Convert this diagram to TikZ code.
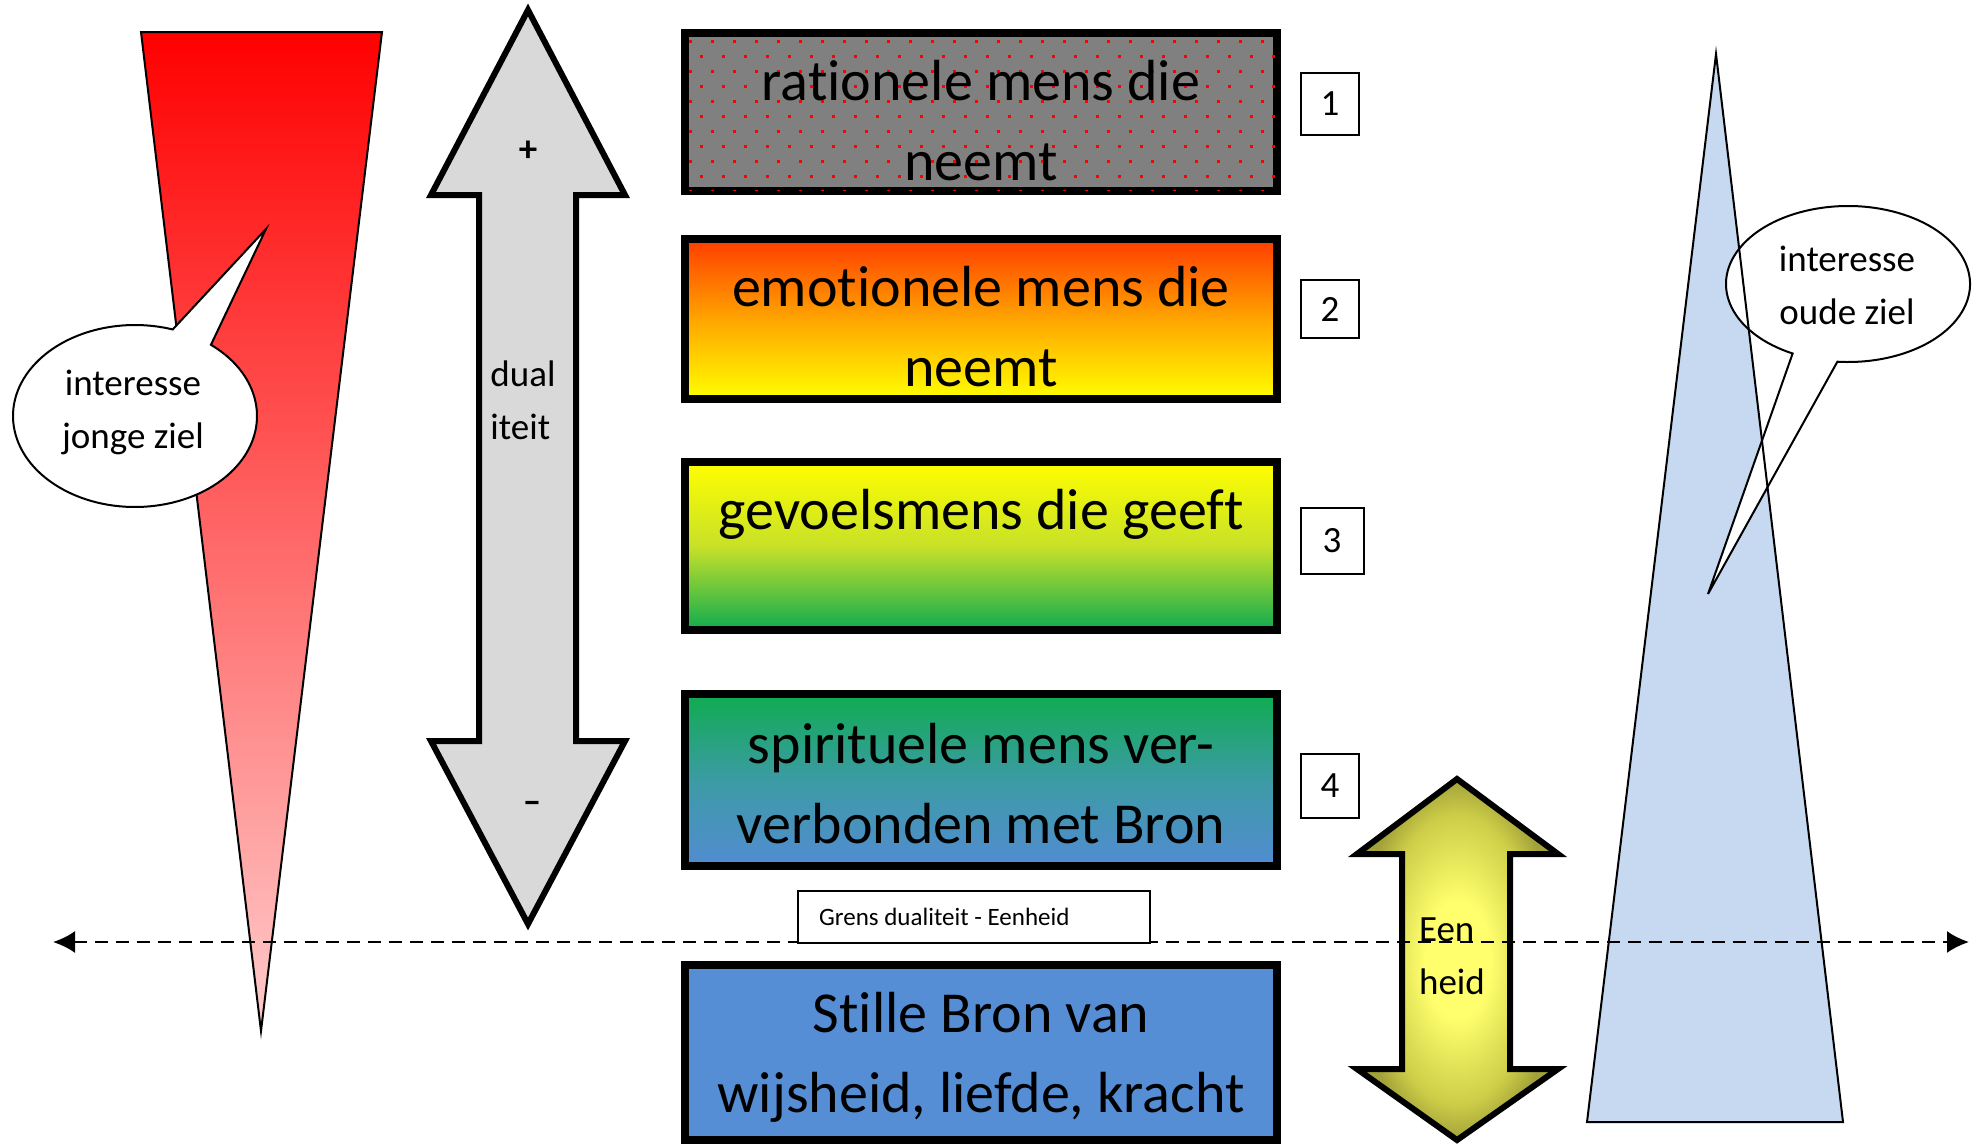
\documentclass[tikz,border=0pt]{standalone}
\usepackage{fontspec}
\setmainfont{Carlito}[Ligatures={NoCommon}]
\usetikzlibrary{arrows.meta, positioning, shapes}

\definecolor{ratgrijs}{RGB}{128,128,128}
\definecolor{emotop}{RGB}{255,60,0}
\definecolor{emomid}{RGB}{255,165,0}
\definecolor{geel}{RGB}{255,255,0}
\definecolor{gevmid}{RGB}{200,225,40}
\definecolor{groen}{RGB}{15,172,80}
\definecolor{spimid}{RGB}{60,155,165}
\definecolor{spibot}{RGB}{82,140,210}
\definecolor{bronblauw}{RGB}{85,142,213}
\definecolor{pijlgrijs}{RGB}{217,217,217}
\definecolor{jongrood}{RGB}{255,0,0}
\definecolor{jongroze}{RGB}{255,204,204}
\definecolor{oudblauw}{RGB}{198,217,240}
\definecolor{eenlicht}{RGB}{255,255,110}
\definecolor{eenmid}{RGB}{205,205,72}
\definecolor{eendonker}{RGB}{162,162,58}

\pgfdeclareradialshading{eenheidglow}{\pgfpoint{0bp}{0bp}}{%
  color(0bp)=(eenlicht); color(8bp)=(eenlicht); color(20bp)=(eenmid);
  color(25bp)=(eendonker); color(50bp)=(eendonker)}

\begin{document}
\begin{tikzpicture}[x=1pt,y=-1pt,
  laag/.style={draw,line width=8pt,minimum width=592pt,inner sep=0pt,outer sep=0pt},
  laagtekst/.style={align=center,inner sep=0pt,font=\fontsize{58}{80}\selectfont},
  nummer/.style={draw,line width=2pt,fill=white,minimum width=58pt,minimum height=62pt,inner sep=0pt,font=\fontsize{37}{44}\selectfont},
  ballon/.style={draw,line width=2pt,fill=white},
  ballontekst/.style={align=center,inner sep=0pt,font=\fontsize{37}{53}\selectfont},
  pijl/.style={draw,line width=6pt,line join=miter},
  klein/.style={inner sep=0pt,font=\fontsize{37}{53}\selectfont}]
  \useasboundingbox (0,0) rectangle (1977,1144);

  % driehoeken jonge en oude ziel
  \shade[top color=jongrood,bottom color=jongroze,draw,line width=2pt]
    (141,32) -- (382,32) -- (261,1031) -- cycle;
  \fill[oudblauw] (1716,54) -- (1843,1122) -- (1587,1122) -- cycle;

  % dualiteit pijl
  \draw[pijl,fill=pijlgrijs] (528,10) -- (625,195) -- (576,195) -- (576,741) -- (625,741)
    -- (528,924) -- (431,741) -- (479,741) -- (479,195) -- (431,195) -- cycle;
  \node[klein] (plus) at (528,151) {\textbf{+}};
  \node[klein,align=left] (dual) at (523,400) {dual\\iteit};
  \node[klein] (min) at (532,807) {\textbf{–}};

  % lagen
  \node[laag,fill=ratgrijs,minimum height=158pt] (b1) at (981,112) {};
  \begin{scope}
    \clip (686,34) rectangle (1276,190);
    \foreach \r in {0,...,10}{
      \pgfmathsetmacro\dx{11*mod(\r,2)}
      \foreach \c in {0,...,27}
        \fill[red] ({689+22*\c+\dx},{40+15*\r}) rectangle +(3,3);
    }
  \end{scope}
  \node[laag,minimum height=160pt,top color=emotop,bottom color=geel,middle color=emomid] (b2) at (981,319) {};
  \node[laag,minimum height=168pt,top color=geel,bottom color=groen,middle color=gevmid] (b3) at (981,546) {};
  \node[laag,minimum height=172pt,top color=groen,bottom color=spibot,middle color=spimid] (b4) at (981,780) {};
  \node[laag,fill=bronblauw,minimum height=175pt] (b5) at (981,1052) {};

  \node[laagtekst] (t1) at (981,121) {rationele mens die\\neemt};
  \node[laagtekst] (t2) at (981,327) {emotionele mens die\\neemt};
  \node[laagtekst] (t3) at (981,514) {gevoelsmens die geeft};
  \node[laagtekst] (t4) at (981,784) {spirituele mens ver-\\verbonden met Bron};
  \node[laagtekst] (t5) at (981,1057) {Stille Bron van\\wijsheid, liefde, kracht};

  \node[nummer] (n1) at (1330,104) {1};
  \node[nummer,minimum height=58pt] (n2) at (1330,309) {2};
  \node[nummer,minimum width=63pt,minimum height=66pt] (n3) at (1332,541) {3};
  \node[nummer,minimum height=64pt] (n4) at (1330,786) {4};

  % eenheid pijl
  \draw[pijl,shading=eenheidglow] (1457,779) -- (1558,854) -- (1510,854) -- (1510,1069) -- (1558,1069)
    -- (1457,1140) -- (1357,1069) -- (1402,1069) -- (1402,854) -- (1357,854) -- cycle;

  % tekstballonnen
  \coordinate (jc) at (135,416);
  \coordinate (jtip) at (266,229);
  \draw[ballon] (jc) ++(-51.5:122 and 91) arc[start angle=-51.5,end angle=288,x radius=122,y radius=91]
    -- (jtip) -- cycle;
  \node[ballontekst] (jong) at (133,412) {interesse\\jonge ziel};

  \coordinate (oc) at (1848,284);
  \coordinate (otip) at (1708,594);
  \draw[ballon] (oc) ++(117:122 and 78) arc[start angle=117,end angle=455,x radius=122,y radius=78]
    -- (otip) -- cycle;
  \node[ballontekst] (oud) at (1847,285) {interesse\\oude ziel};
  \draw[line width=2pt] (1716,54) -- (1843,1122) -- (1587,1122) -- cycle;

  % grens
  \coordinate (grensL) at (53,942);
  \coordinate (grensR) at (1969,942);
  \draw[line width=2.5pt,dash pattern=on 13pt off 8pt,{Latex[length=22pt,width=22pt]}-{Latex[length=22pt,width=22pt]}]
    (grensL) -- (grensR);
  \node[draw,line width=2pt,fill=white,minimum width=352pt,minimum height=52pt,inner sep=0pt] (g) at (974,917) {};
  \node[inner sep=0pt,anchor=west,font=\fontsize{25}{30}\selectfont] (gtekst) at ([xshift=22pt]g.west) {Grens dualiteit - Eenheid};
  \node[klein,align=left] (een) at (1452,956) {Een\\heid};
\end{tikzpicture}
\end{document}
